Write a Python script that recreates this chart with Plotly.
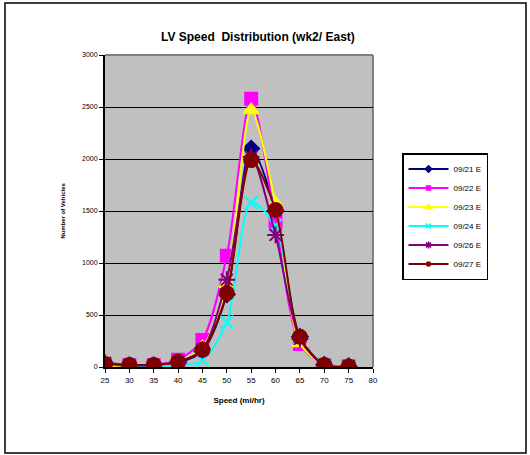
import plotly.graph_objects as go

# Speed bins (mi/hr)
speeds = [25, 30, 35, 40, 45, 50, 55, 60, 65, 70, 75]

# Vehicle counts per day, eastbound
sep21 = [20, 10, 10, 40, 150, 700, 2100, 1500, 290, 20, 5]
sep22 = [30, 20, 20, 70, 260, 1070, 2580, 1400, 220, 20, 5]
sep23 = [5, 20, 20, 50, 190, 800, 2470, 1570, 230, 20, 5]
sep24 = [30, 15, 15, 10, 65, 430, 1580, 1360, 280, 20, 5]
sep26 = [40, 20, 20, 50, 170, 840, 2020, 1270, 270, 20, 10]
sep27 = [30, 20, 20, 50, 165, 710, 1990, 1510, 290, 20, 5]

names = ["09/21 E", "09/22 E", "09/23 E", "09/24 E", "09/26 E", "09/27 E"]
series = [sep21, sep22, sep23, sep24, sep26, sep27]
colors = ["#000080", "#FF00FF", "#FFFF00", "#00FFFF", "#800080", "#800000"]
symbols = ["diamond", "square", "triangle-up", "x-thin-open", "asterisk-open", "circle"]
sizes = [12, 12, 13, 13, 14, 14]
leg_sizes = [5, 4, 6, 5, 6, 4]

fig = go.Figure()

for name, vals, col, sym, sz in zip(names, series, colors, symbols, sizes):
    fig.add_trace(go.Scatter(
        x=speeds, y=vals, name=name, mode="lines+markers",
        line=dict(color=col, width=2, shape="spline", smoothing=0.8),
        marker=dict(symbol=sym, size=sz, color=col,
                    line=dict(color=col, width=2)),
        showlegend=False,
    ))

# Legend entries with small markers
for name, col, sym, sz in zip(names, colors, symbols, leg_sizes):
    fig.add_trace(go.Scatter(
        x=[None], y=[None], name=name, mode="lines+markers",
        line=dict(color=col, width=2),
        marker=dict(symbol=sym, size=sz, color=col,
                    line=dict(color=col, width=1.5)),
    ))

L, R, T, B = 105, 373, 55, 367
W, H = 530, 455
pw, ph = R - L, B - T


def px(x):
    return (x - L) / pw


def py(y):
    return (B - y) / ph


fig.update_layout(
    width=W, height=H,
    margin=dict(l=L, r=W - R, t=T, b=H - B, pad=0),
    paper_bgcolor="white",
    plot_bgcolor="#C0C0C0",
    font=dict(family="Arial, Liberation Sans, sans-serif", color="black", size=8),
    showlegend=True,
    legend=dict(
        x=px(402), y=py(153), xanchor="left", yanchor="top",
        bgcolor="white", bordercolor="black", borderwidth=1.5,
        font=dict(size=8), tracegroupgap=0, itemwidth=40,
    ),
    xaxis=dict(
        range=[25, 80], tickmode="array", tickvals=list(range(25, 85, 5)),
        showgrid=False, zeroline=False,
        showline=True, linecolor="black", linewidth=2, mirror=False,
        ticks="outside", ticklen=4, tickcolor="black", tickwidth=1,
        tickfont=dict(size=8),
        title=dict(text="<b>Speed (mi/hr)</b>", font=dict(size=8), standoff=14),
    ),
    yaxis=dict(
        range=[0, 3000], tickvals=list(range(0, 3500, 500)),
        showgrid=True, gridcolor="black", gridwidth=1, zeroline=False,
        showline=True, linecolor="black", linewidth=2,
        ticks="outside", ticklen=4, tickcolor="black", tickwidth=1,
        tickfont=dict(size=7),
        title=dict(text="<b>Number of Vehicles</b>", font=dict(size=6), standoff=16),
    ),
    annotations=[dict(
        text="<b>LV Speed  Distribution (wk2/ East)</b>",
        x=px(258), y=py(37), xref="paper", yref="paper",
        showarrow=False, font=dict(size=12), xanchor="center", yanchor="middle",
    )],
    shapes=[
        # plot-area frame on top and right
        dict(type="line", xref="paper", yref="paper", x0=0, x1=1, y0=1, y1=1,
             line=dict(color="#808080", width=2), layer="below"),
        dict(type="line", xref="paper", yref="paper", x0=1, x1=1, y0=0, y1=1,
             line=dict(color="#808080", width=2), layer="below"),
        # outer chart border
        dict(type="rect", xref="paper", yref="paper",
             x0=px(5), x1=px(526), y0=py(453), y1=py(3),
             line=dict(color="black", width=1.5)),
    ],
)

fig.write_html("out.html")
